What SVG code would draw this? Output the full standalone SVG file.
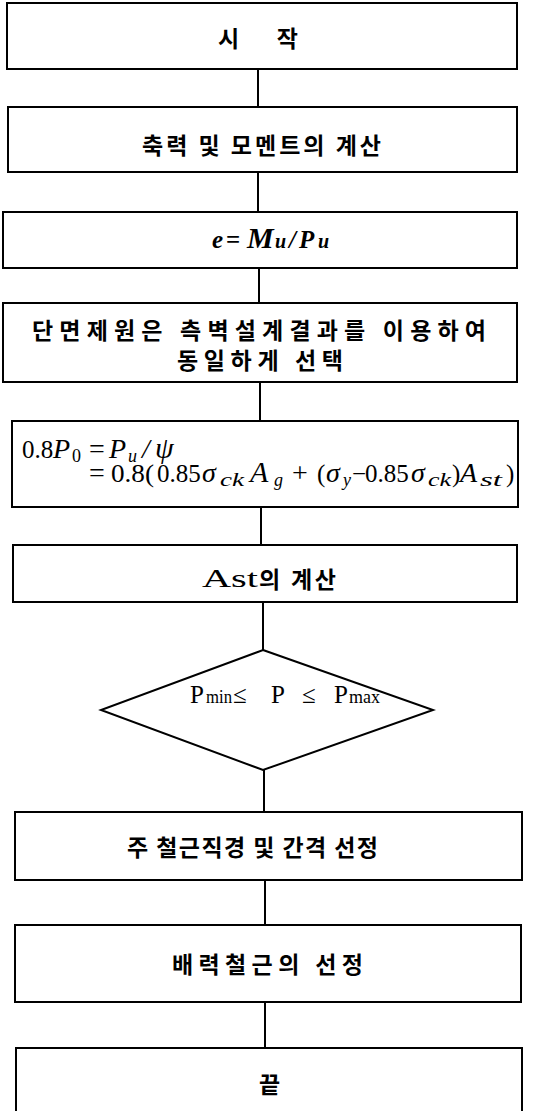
<svg xmlns="http://www.w3.org/2000/svg" width="533" height="1111" viewBox="0 0 533 1111">
<style>
.box{fill:#fff;stroke:#000;stroke-width:2}
.conn{stroke:#000;stroke-width:2;fill:none}
.kr{font-family:"Noto Sans CJK KR",sans-serif;font-size:23px;font-weight:bold;fill:#000}
.m{font-family:"Liberation Serif",serif;font-size:25px;fill:#000}
.i{font-style:italic}
.v{font-style:italic;font-size:28px}
.b{font-weight:bold}
.s{font-size:18px}
</style>
<rect x="0" y="0" width="533" height="1111" fill="#fff"/>
<g id="connectors">
<line class="conn" x1="258" y1="69" x2="258" y2="107"/>
<line class="conn" x1="258" y1="172" x2="258" y2="212"/>
<line class="conn" x1="259" y1="268" x2="259" y2="303"/>
<line class="conn" x1="260" y1="382" x2="260" y2="421"/>
<line class="conn" x1="261" y1="507" x2="261" y2="545"/>
<line class="conn" x1="263" y1="602" x2="263" y2="650"/>
<line class="conn" x1="264" y1="770" x2="264" y2="812"/>
<line class="conn" x1="265" y1="880" x2="265" y2="925"/>
<line class="conn" x1="265" y1="1002" x2="265" y2="1048"/>
</g>
<g id="start">
<rect class="box" x="7" y="3" width="510" height="66"/>
<text class="kr" x="218" y="47" textLength="80" lengthAdjust="spacing">시 작</text>
</g>
<g id="forces">
<rect class="box" x="8" y="107" width="509" height="65"/>
<text class="kr" x="142" y="154" textLength="239" lengthAdjust="spacing">축력 및 모멘트의 계산</text>
</g>
<g id="eccentricity">
<rect class="box" x="3" y="212" width="514" height="56"/>
<text class="m b" y="248" font-size="28"><tspan class="i" x="212">e</tspan><tspan x="226">=</tspan><tspan class="i" font-size="30" x="247">M</tspan><tspan class="i" font-size="20" x="275">u</tspan><tspan class="i" x="289">/</tspan><tspan class="i" x="299">P</tspan><tspan class="i" font-size="20" x="318">u</tspan></text>
</g>
<g id="section">
<rect class="box" x="3" y="303" width="514" height="79"/>
<text class="kr" font-size="23" x="32" y="339" textLength="454" lengthAdjust="spacing">단면제원은 측벽설계결과를 이용하여</text>
<text class="kr" font-size="23" x="177" y="369" textLength="166" lengthAdjust="spacing">동일하게 선택</text>
</g>
<g id="axial">
<rect class="box" x="12" y="421" width="506" height="86"/>
<text class="m" y="458"><tspan x="22">0.8</tspan><tspan class="v" x="53">P</tspan><tspan class="s" x="72" dy="4">0</tspan><tspan font-size="28" x="89" dy="-4">=</tspan><tspan class="v" x="109">P</tspan><tspan class="i s" x="128" dy="4">u</tspan><tspan class="v" x="142" dy="-4">/</tspan><tspan class="i" font-size="30" x="155">ψ</tspan></text>
<text class="m" y="482"><tspan font-size="28" x="89">=</tspan><tspan x="111" textLength="43" lengthAdjust="spacingAndGlyphs">0.8(</tspan><tspan x="157">0.85</tspan><tspan class="v" x="202">σ</tspan><tspan class="i s" x="220" dy="4" textLength="24" lengthAdjust="spacingAndGlyphs">ck</tspan><tspan class="i" font-size="30" x="250" dy="-4">A</tspan><tspan class="i s" x="274" dy="4">g</tspan><tspan font-size="28" x="292" dy="-4">+</tspan><tspan x="317">(</tspan><tspan class="v" x="326">σ</tspan><tspan class="i s" x="343" dy="4">y</tspan><tspan x="352" dy="-4">−</tspan><tspan x="365">0.85</tspan><tspan class="v" x="411">σ</tspan><tspan class="i s" x="428" dy="4" textLength="23" lengthAdjust="spacingAndGlyphs">ck</tspan><tspan x="452" dy="-4">)</tspan><tspan class="v" x="460">A</tspan><tspan class="i s" x="480" dy="4" textLength="22" lengthAdjust="spacingAndGlyphs">st</tspan><tspan x="506" dy="-4">)</tspan></text>
</g>
<g id="ast">
<rect class="box" x="13" y="545" width="504" height="57"/>
<text class="m" x="202" y="587" font-size="27" textLength="56" lengthAdjust="spacingAndGlyphs">Ast</text>
<text class="kr" x="259" y="588" textLength="77" lengthAdjust="spacing">의 계산</text>
</g>
<g id="check">
<polygon class="box" points="263,650 433,710 263,770 101,710"/>
<text class="m" y="703" font-size="26"><tspan x="190">P</tspan><tspan class="s" x="206" textLength="26" lengthAdjust="spacingAndGlyphs">min</tspan><tspan x="233">≤</tspan><tspan x="271">P</tspan><tspan x="302">≤</tspan><tspan x="334">P</tspan><tspan class="s" x="349" textLength="31" lengthAdjust="spacingAndGlyphs">max</tspan></text>
</g>
<g id="main-bar">
<rect class="box" x="15" y="812" width="507" height="68"/>
<text class="kr" x="127" y="856" textLength="251" lengthAdjust="spacing">주 철근직경 및 간격 선정</text>
</g>
<g id="dist-bar">
<rect class="box" x="15" y="925" width="506" height="77"/>
<text class="kr" x="172" y="973" textLength="191" lengthAdjust="spacing">배력철근의 선정</text>
</g>
<g id="end">
<rect class="box" x="16" y="1048" width="506" height="80"/>
<text class="kr" x="259" y="1093">끝</text>
</g>
</svg>
